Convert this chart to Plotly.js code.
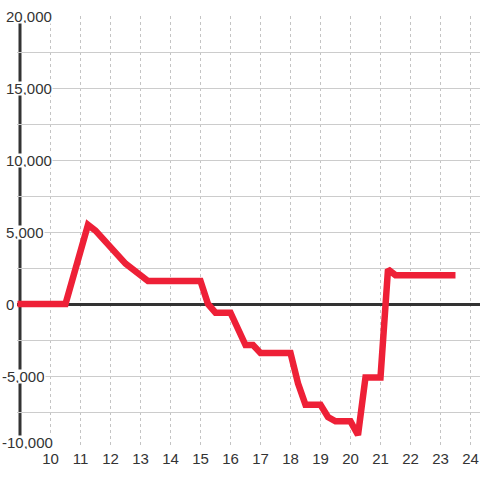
<!DOCTYPE html>
<html>
<head>
<meta charset="utf-8">
<script src="https://cdn.plot.ly/plotly-3.0.1.min.js"></script>
<style>html,body{margin:0;padding:0;background:#fff;}#chart{width:480px;height:480px;}</style>
</head>
<body>
<div id="chart"></div>
<script>
const hours = [8.9, 10.5, 11.25, 11.5, 12.5, 13.25, 15, 15.25, 15.5, 16, 16.5, 16.75, 17, 18, 18.25, 18.5, 19, 19.25, 19.5, 20, 20.25, 20.5, 21, 21.25, 21.5, 23.5];
const values = [0, 0, 5500, 5100, 2800, 1600, 1600, 0, -600, -600, -2850, -2850, -3400, -3400, -5500, -7000, -7000, -7850, -8150, -8150, -9100, -5100, -5100, 2400, 2000, 2000];
const xTickVals = [10, 11, 12, 13, 14, 15, 16, 17, 18, 19, 20, 21, 22, 23, 24];
const yTickVals = [20000, 15000, 10000, 5000, 0, -5000, -10000];
const yTickText = ['20,000', '15,000', '10,000', '5,000', '0', '-5,000', '-10,000'];

const font = {family: 'Liberation Sans, Arial, sans-serif', size: 15, color: '#333'};

const annotations = yTickVals.map((v, i) => ({
  xref: 'paper', yref: 'y', x: 0, y: v,
  xshift: v < 0 ? -16 : -12,
  yshift: (i === yTickVals.length - 1) ? 6 : 0,
  xanchor: 'left', yanchor: 'middle', height: 13, valign: 'middle',
  text: yTickText[i], showarrow: false,
  bgcolor: '#ffffff', borderpad: 0, font: font
}));

const trace = {
  x: hours, y: values, type: 'scatter', mode: 'lines',
  line: {color: '#ee2037', width: 6.5},
  hoverinfo: 'skip'
};

const layout = {
  width: 480, height: 480,
  margin: {l: 17, r: 0, t: 16, b: 32, pad: 0},
  paper_bgcolor: '#fff', plot_bgcolor: '#fff',
  showlegend: false,
  font: font,
  xaxis: {
    range: [8.883, 24.317], tickmode: 'array', tickvals: xTickVals,
    ticktext: xTickVals.map(String),
    showgrid: true, gridcolor: '#c4c4c4', gridwidth: 1, griddash: 'dot',
    zeroline: false, showline: false, ticks: '', tickfont: font,
    layer: 'below traces'
  },
  yaxis: {
    range: [-10000, 20000], tickmode: 'linear', tick0: 0, dtick: 2500,
    showticklabels: false, showgrid: true, gridcolor: '#cccccc', gridwidth: 1,
    zeroline: true, zerolinecolor: '#333', zerolinewidth: 3,
    showline: false, ticks: '', layer: 'below traces'
  },
  shapes: [{
    type: 'line', xref: 'x', yref: 'paper', x0: 8.983, x1: 8.983, y0: 0, y1: 1,
    line: {color: '#333', width: 3}, layer: 'below'
  }],
  annotations: annotations
};

Plotly.newPlot('chart', [trace], layout, {staticPlot: true, displayModeBar: false});
</script>
</body>
</html>
